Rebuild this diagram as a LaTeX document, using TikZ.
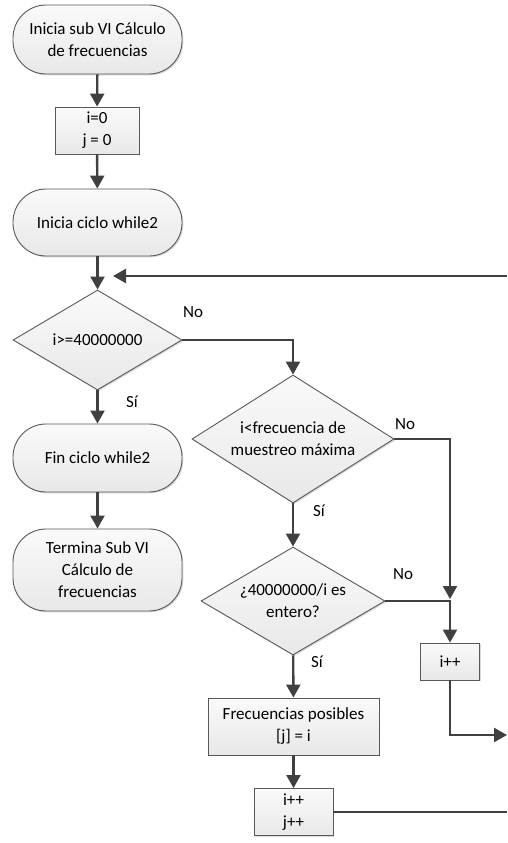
\documentclass[tikz,border=0pt]{standalone}
\usepackage{fontspec}
\setmainfont{Carlito}
\usetikzlibrary{shapes.geometric,arrows.meta,shadows}

\begin{document}
\begin{tikzpicture}[x=1pt,y=-1pt,>={Triangle[length=13pt,width=14pt]},
    font=\fontsize{17}{22}\selectfont,
    base/.style={draw=black!65,line width=0.9pt,top color=black!2,bottom color=black!9,
        align=center,inner sep=0pt,
        drop shadow={shadow xshift=1.3pt,shadow yshift=-1.3pt,opacity=.25,fill=black!60}},
    caja/.style={base,rectangle},
    term/.style={base,rectangle,rounded corners=33pt,minimum width=169pt},
    rombo/.style={base,diamond,aspect=1.6},
    conector/.style={draw=black!75,line width=2.4pt}]
\useasboundingbox (0,0) rectangle (507,843);

% columna izquierda
\node[term,minimum height=69pt](inicio) at (97.5,39.5){Inicia sub VI Cálculo\\de frecuencias};
\node[caja,minimum width=84pt,minimum height=47pt](ceros) at (97,130.5){i=0\\j = 0};
\node[term,minimum height=67pt](ciclo) at (97.5,222.5){Inicia ciclo while2};
\node[rombo,minimum width=169pt,minimum height=100pt](limite) at (97.5,340){i>=40000000};
\node[term,minimum height=68pt](fin) at (97.5,458){Fin ciclo while2};
\node[term,minimum height=82pt](termina) at (97.5,570){Termina Sub VI\\Cálculo de\\frecuencias};

% columna central y derecha
\node[rombo,minimum width=202pt,minimum height=128pt](muestreo) at (293,439){i<frecuencia de\\muestreo máxima};
\node[rombo,minimum width=184pt,minimum height=108pt](entero) at (293,601){¿40000000/i es\\entero?};
\node[caja,minimum width=59pt,minimum height=37pt](incr) at (450,661.5){i++};
\node[caja,minimum width=171pt,minimum height=57pt](guarda) at (293.5,726.5){Frecuencias posibles\\{[j]} = i};
\node[caja,minimum width=79pt,minimum height=47pt](incrij) at (293.5,812){i++\\j++};

\coordinate (regreso) at (507,276);
\coordinate (entrada) at (113,276);
\coordinate (union) at (450,599);
\coordinate (salida) at (507,735);
\coordinate (fuera) at (507,812);

\draw[conector,->](inicio)--(ceros);
\draw[conector,->](ceros)--(ciclo);
\draw[conector,->](ciclo)--(limite);
\draw[conector,->](regreso)--(entrada);
\draw[conector,->](limite)--(fin);
\draw[conector,->](fin)--(termina);
\draw[conector,->](limite.east)-|(muestreo.north);
\draw[conector,->](muestreo)--(entero);
\draw[conector,->](muestreo.east)-|(union);
\draw[conector,->](entero.east)-|(incr.north);
\draw[conector,->](entero)--(guarda);
\draw[conector,->](guarda)--(incrij);
\draw[conector,->](incr.south)|-(salida);
\draw[conector](incrij.east)--(fuera);

% etiquetas de las ramas
\foreach \n/\x/\y/\t in {a/193/312/No,b/132/402/Sí,c/405/424/No,d/319/511/Sí,e/403/574/No,f/317/662/Sí}
{
    \node (rama\n) at (\x,\y){\t};
}
\end{tikzpicture}
\end{document}
